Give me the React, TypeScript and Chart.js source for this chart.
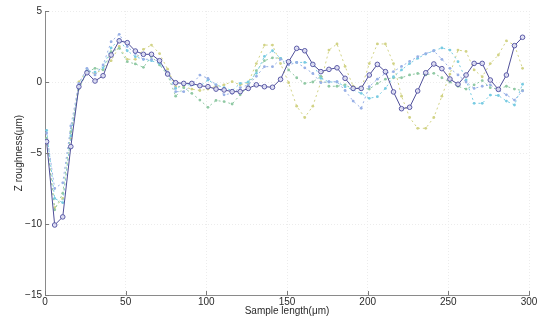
import React, { useEffect, useRef } from "react";
import { Chart, registerables } from "chart.js";

Chart.register(...registerables);

const xPositions = [
  1, 6, 11, 16, 21, 26, 31, 36, 41, 46, 51, 56, 61, 66, 71, 76, 81, 86, 91, 96,
  101, 106, 111, 116, 121, 126, 131, 136, 141, 146, 151, 156, 161, 166, 171, 176, 181, 186, 191, 196,
  201, 206, 211, 216, 221, 226, 231, 236, 241, 246, 251, 256, 261, 266, 271, 276, 281, 286, 291, 296,
];

const seriesMain = [
  -4.2, -10.07, -9.5, -4.55, -0.33, 0.65, 0.07, 0.44, 1.9, 2.9, 2.77, 2.18, 1.95, 1.95, 1.5, 0.56, -0.05, -0.1, -0.1, -0.26,
  -0.33, -0.5, -0.56, -0.68, -0.68, -0.45, -0.2, -0.33, -0.37, 0.19, 1.43, 2.37, 2.2, 1.24, 0.73, 0.89, 1.0, 0.26, -0.45, -0.45,
  0.49, 1.24, 0.73, -0.7, -1.88, -1.78, -0.63, 0.65, 1.27, 0.94, 0.21, -0.16, 0.49, 1.31, 1.31, 0.14, -0.52, 0.49, 2.56, 3.15,
];

const seriesYellow = [
  -4.0, -8.85, -8.2, -4.0, 0.0, 0.8, 0.6, 0.9, 1.5, 2.5, 1.6, 1.6, 2.3, 2.6, 2.0, 0.9, -0.33, -0.33, -0.5, -0.6,
  -0.5, -0.3, -0.2, 0.02, -0.2, -0.05, 1.3, 2.6, 2.6, 1.3, -0.05, -1.7, -2.5, -1.7, 0.0, 2.25, 2.68, 1.1, -0.3, -0.5,
  1.3, 2.68, 2.68, 1.3, -1.0, -2.5, -3.26, -3.26, -2.5, -1.0, 0.56, 2.25, 2.15, 0.85, 0.37, 1.3, 1.9, 2.9, 2.6, 0.96,
];

const seriesGreen = [
  -3.97, -9.0, -7.84, -3.5, -0.5, 0.7, 0.96, 0.85, 2.13, 2.37, 1.43, 1.27, 1.03, 1.8, 1.2, 0.5, -1.0, -0.4, -0.8, -1.27,
  -1.78, -1.3, -1.38, -1.55, -0.9, -0.3, 0.8, 1.5, 1.7, 1.67, 0.85, 0.3, -0.1, 0.0, 0.4, -0.3, -0.3, -0.2, -0.5, -0.4,
  -0.5, -0.1, 0.2, 0.3, 0.3, 0.5, 0.6, 0.5, 0.61, 0.3, 0.0, -0.3, -0.5, -0.2, 0.1, -0.4, -0.5, -0.3, -0.5, -0.6,
];

const seriesCyan = [
  -3.4, -8.2, -8.5, -3.8, -0.3, 0.8, 0.7, 1.0, 2.4, 3.0, 2.2, 1.78, 1.6, 1.5, 1.3, 0.6, -0.45, -0.2, -0.2, -0.3,
  0.14, -0.2, -0.4, -0.6, -0.1, 0.0, 0.61, 1.8, 2.2, 1.67, 1.4, 1.38, 1.38, 1.3, 0.26, 0.0, 0.0, -0.33, -0.56, -0.8,
  -1.15, -1.03, -0.45, 0.37, 0.85, 1.3, 1.67, 1.97, 2.2, 2.4, 2.25, 1.43, 0.14, -1.5, -1.5, -0.92, -0.95, -1.34, -1.62, -0.16,
];

const seriesBlue = [
  -3.6, -7.5, -7.1, -3.1, -0.1, 0.96, 0.5, 1.2, 2.84, 3.36, 2.5, 2.0, 1.6, 1.6, 1.5, 0.7, -0.68, -0.68, -0.2, 0.49,
  0.26, -0.2, -0.9, -0.8, -0.4, -0.2, 0.4, 1.08, 1.08, 1.6, 1.2, 1.38, 1.0, 0.6, -0.05, 0.02, 0.02, -0.6, -1.34, -1.85,
  -0.33, 0.2, 0.61, 0.73, 1.1, 1.45, 1.78, 2.0, 2.2, 1.6, 0.96, 0.5, 0.0, -0.45, -0.3, -0.2, -0.56, -0.9, -1.27, -0.63,
];

const xTicks = [0, 50, 100, 150, 200, 250, 300];
const yTicks = [-15, -10, -5, 0, 5];

const toPoints = (ys: number[]) => ys.map((y, i) => ({ x: xPositions[i], y }));

const insideTicks = {
  id: "insideTicks",
  afterDraw(chart: any) {
    const { ctx, chartArea, scales } = chart;
    ctx.save();
    ctx.strokeStyle = "#7a7a7a";
    ctx.lineWidth = 1;
    xTicks.forEach((v) => {
      const px = Math.round(scales.x.getPixelForValue(v)) + 0.5;
      ctx.beginPath();
      ctx.moveTo(px, chartArea.bottom);
      ctx.lineTo(px, chartArea.bottom - 4);
      ctx.stroke();
    });
    yTicks.forEach((v) => {
      const py = Math.round(scales.y.getPixelForValue(v)) + 0.5;
      ctx.beginPath();
      ctx.moveTo(chartArea.left, py);
      ctx.lineTo(chartArea.left + 4, py);
      ctx.stroke();
    });
    ctx.restore();
  },
};

const dotted = (label: string, data: number[], color: string) => ({
  label,
  data: toPoints(data),
  borderColor: color,
  backgroundColor: color,
  borderWidth: 1,
  borderDash: [2, 3],
  pointRadius: 1.4,
  pointBorderWidth: 0,
  pointBackgroundColor: color,
  tension: 0,
});

export default function App() {
  const ref = useRef<HTMLCanvasElement>(null);
  useEffect(() => {
    if (!ref.current) return;
    const font = { family: "'Liberation Sans', Arial, sans-serif", size: 10 };
    const chart = new Chart(ref.current, {
      type: "line",
      data: {
        datasets: [
          {
            label: "main",
            data: toPoints(seriesMain),
            borderColor: "#4e4e98",
            borderWidth: 1,
            pointRadius: 2.3,
            pointBorderWidth: 1,
            pointBorderColor: "#5a5aa6",
            pointBackgroundColor: "rgba(225,225,245,0.9)",
            tension: 0,
          },
          dotted("blue", seriesBlue, "#98b0e6"),
          dotted("cyan", seriesCyan, "#78cbe2"),
          dotted("green", seriesGreen, "#90c9a4"),
          dotted("yellow", seriesYellow, "#d2d386"),
        ],
      },
      plugins: [insideTicks],
      options: {
        animation: false,
        responsive: false,
        maintainAspectRatio: false,
        layout: { padding: { top: 11, right: 14, left: 0, bottom: 0 } },
        plugins: { legend: { display: false }, tooltip: { enabled: false } },
        scales: {
          x: {
            type: "linear",
            min: 0,
            max: 300,
            afterFit: (s: any) => {
              s.height = 25;
            },
            afterBuildTicks: (s: any) => {
              s.ticks = xTicks.map((v) => ({ value: v }));
            },
            ticks: { font, color: "#2a2a2a", padding: 1, maxRotation: 0 },
            grid: { color: "#ececec", drawTicks: false },
            border: { color: "#8a8a8a", dash: [1, 2] },
            title: {
              display: true,
              text: "Sample length(μm)",
              font,
              color: "#2a2a2a",
              padding: { top: 0, bottom: 3 },
            },
          },
          y: {
            type: "linear",
            min: -15,
            max: 5,
            afterFit: (s: any) => {
              s.width = 45;
            },
            afterBuildTicks: (s: any) => {
              s.ticks = yTicks.map((v) => ({ value: v }));
            },
            ticks: {
              font,
              color: "#2a2a2a",
              padding: 3,
              callback: (v: any) => String(v).replace("-", "\u2212"),
            },
            grid: { color: "#ececec", drawTicks: false },
            border: { color: "#8a8a8a", dash: [1, 2] },
            title: {
              display: true,
              text: "Z roughness(μm)",
              font,
              color: "#2a2a2a",
              padding: { top: 13, bottom: 0 },
            },
          },
        },
      },
    });
    return () => chart.destroy();
  }, []);
  return (
    <div style={{ position: "fixed", left: 0, top: 0, width: 543, height: 320, background: "#fff" }}>
      <canvas ref={ref} width={543} height={320} style={{ width: 543, height: 320 }} />
    </div>
  );
}
